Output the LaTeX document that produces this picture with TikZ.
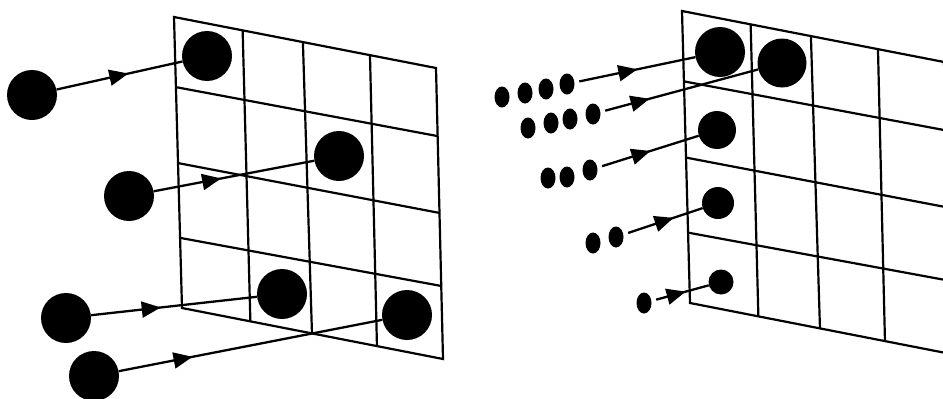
\documentclass[tikz,border=0pt]{standalone}
\usetikzlibrary{calc,arrows.meta,decorations.markings,shapes.geometric}
\tikzset{
  gridline/.style={line width=2.2pt, line join=miter},
  ball/.style={circle, fill=black, inner sep=0pt, minimum size=#1},
  pellet/.style={ellipse, fill=black, inner sep=0pt, minimum width=15pt, minimum height=21pt, outer sep=5pt},
  flow/.style={line width=2.3pt, postaction={decorate},
    decoration={markings, mark=at position #1 with {\arrow{Triangle[length=19pt,width=16pt]}}}},
}
\newcommand\mygrid[1]{%
  \draw[gridline] (#1TL) -- (#1TR) -- (#1BR) -- (#1BL) -- cycle;
  \foreach \u/\v in {0.262/0.262,0.492/0.498,0.748/0.747}
    \draw[gridline] ($(#1TL)!\u!(#1TR)$) -- ($(#1BL)!\v!(#1BR)$);
  \foreach \u/\v in {0.241/0.234,0.502/0.498,0.759/0.749}
    \draw[gridline] ($(#1TL)!\u!(#1BL)$) -- ($(#1TR)!\v!(#1BR)$);
}
\begin{document}
\begin{tikzpicture}[x=1pt,y=-1pt]
\useasboundingbox (0,0) rectangle (943,399);
\clip (0,0) rectangle (943,399);
% grids
\coordinate (LTL) at (174,17);
\coordinate (LTR) at (436,68);
\coordinate (LBL) at (182,308);
\coordinate (LBR) at (443,359);
\coordinate (RTL) at (682,11);
\coordinate (RTR) at (944,62);
\coordinate (RBL) at (690,303);
\coordinate (RBR) at (951,354);
\mygrid{L}
\mygrid{R}
% left balls
\node[ball=50pt] (sA) at (32,95) {};
\node[ball=50pt] (tA) at (207,56) {};
\node[ball=50pt] (sB) at (129,196) {};
\node[ball=50pt] (tB) at (339,156) {};
\node[ball=50pt] (sC) at (66,318) {};
\node[ball=50pt] (tC) at (282,294) {};
\node[ball=50pt] (sD) at (94,376) {};
\node[ball=50pt] (tD) at (407,315) {};
% right balls
\node[ball=50pt] (r1) at (720,52) {};
\node[ball=49pt] (r2) at (782,63) {};
\node[ball=38pt] (r3) at (717,130) {};
\node[ball=32pt] (r4) at (718,203) {};
\node[ball=25pt] (r5) at (721,282) {};
% pellets
\node[pellet] (p11) at (502,97) {};
\node[pellet] (p12) at (525,93) {};
\node[pellet] (p13) at (546,89) {};
\node[pellet] (p14) at (567,84) {};
\node[pellet] (p21) at (528,128) {};
\node[pellet] (p22) at (551,123) {};
\node[pellet] (p23) at (570,119) {};
\node[pellet] (p24) at (593,114) {};
\node[pellet] (p31) at (548,178) {};
\node[pellet] (p32) at (567,177) {};
\node[pellet] (p33) at (590,170) {};
\node[pellet] (p41) at (593,243) {};
\node[pellet] (p42) at (616,237) {};
\node[pellet] (p51) at (644,303) {};
% arrows
\draw[flow=0.57] (sA) -- (tA);
\draw[flow=0.42] (sB) -- (tB);
\draw[flow=0.42] (sC) -- (tC);
\draw[flow=0.28] (sD) -- (tD);
\draw[flow=0.50] (p14) -- (r1);
\draw[flow=0.29] (p24) -- (r2);
\draw[flow=0.50] (p33) -- (r3);
\draw[flow=0.61] (p42) -- (r4);
\draw[flow=0.56] (p51) -- (r5);
\end{tikzpicture}
\end{document}
